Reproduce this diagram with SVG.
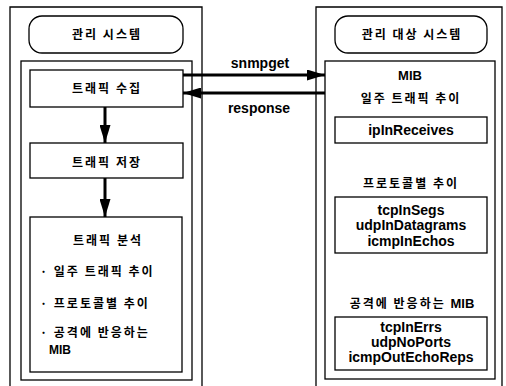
<svg xmlns="http://www.w3.org/2000/svg" width="506" height="386" viewBox="0 0 506 386">
<style>
.box{fill:none;stroke:#000;stroke-width:1.3}
.ko{font-family:"Noto Sans CJK KR","Liberation Sans",sans-serif;font-weight:bold;font-size:12px;letter-spacing:2px;fill:#000}
.la{font-family:"Liberation Sans","Noto Sans CJK KR",sans-serif;font-weight:bold;font-size:14px;fill:#000}
.c{text-anchor:middle}
.arr{stroke:#000;stroke-width:3;fill:none;marker-end:url(#ah)}
</style>
<defs>
<marker id="ah" markerUnits="userSpaceOnUse" markerWidth="18" markerHeight="11" refX="18" refY="5.5" orient="auto">
<path d="M0,0 L18,5.5 L0,11 z" fill="#000"/>
</marker>
</defs>
<rect width="506" height="386" fill="#fff"/>

<g id="manager">
<path class="box" d="M10,386 V7 H202 V386"/>
<rect class="box" x="29" y="16" width="154" height="37" rx="13"/>
<text class="ko c" x="107" y="39">관리 시스템</text>
<rect class="box" x="21" y="61" width="171" height="319"/>
</g>

<g id="collect">
<rect class="box" x="30" y="70" width="153" height="37"/>
<text class="ko c" x="107" y="93">트래픽 수집</text>
</g>

<g id="store">
<rect class="box" x="30" y="143" width="153" height="35"/>
<text class="ko c" x="107" y="167">트래픽 저장</text>
</g>

<g id="analyze">
<rect class="box" x="30" y="217" width="152" height="155"/>
<text class="ko c" x="108" y="245">트래픽 분석</text>
<text class="ko" x="40" y="276">· 일주 트래픽 추이</text>
<text class="ko" x="40" y="308">· 프로토콜별 추이</text>
<text class="ko" x="40" y="337">· 공격에 반응하는</text>
<text class="la" x="49" y="354" style="font-size:12px">MIB</text>
</g>

<g id="agent">
<path class="box" d="M316,386 V7 H502 V386"/>
<rect class="box" x="335" y="16" width="152" height="37" rx="13"/>
<text class="ko c" x="412" y="39">관리 대상 시스템</text>
<rect class="box" x="325" y="61" width="170" height="318"/>
<text class="la c" x="410" y="80" style="font-size:13px">MIB</text>
<text class="ko c" x="411" y="103">일주 트래픽 추이</text>
</g>

<g id="mib-traffic">
<rect class="box" x="335" y="117" width="152" height="26"/>
<text class="la c" x="411" y="135">ipInReceives</text>
</g>

<g id="mib-protocol">
<text class="ko c" x="411" y="188">프로토콜별 추이</text>
<rect class="box" x="335" y="197" width="152" height="56"/>
<text class="la c" x="411" y="215">tcpInSegs</text>
<text class="la c" x="411" y="230">udpInDatagrams</text>
<text class="la c" x="411" y="246">icmpInEchos</text>
</g>

<g id="mib-attack">
<text class="ko c" x="412" y="308">공격에 반응하는 <tspan style="font-family:'Liberation Sans',sans-serif;letter-spacing:0;font-size:13px">MIB</tspan></text>
<rect class="box" x="335" y="317" width="152" height="53"/>
<text class="la c" x="411" y="332">tcpInErrs</text>
<text class="la c" x="411" y="347">udpNoPorts</text>
<text class="la c" x="411" y="362">icmpOutEchoReps</text>
</g>

<g id="connectors">
<line class="arr" x1="105" y1="107" x2="105" y2="143"/>
<line class="arr" x1="105" y1="178" x2="105" y2="217"/>
<line class="arr" x1="183" y1="75" x2="325" y2="75"/>
<line class="arr" x1="325" y1="93" x2="183" y2="93"/>
<text class="la c" x="260" y="68">snmpget</text>
<text class="la c" x="259" y="113">response</text>
</g>
</svg>
